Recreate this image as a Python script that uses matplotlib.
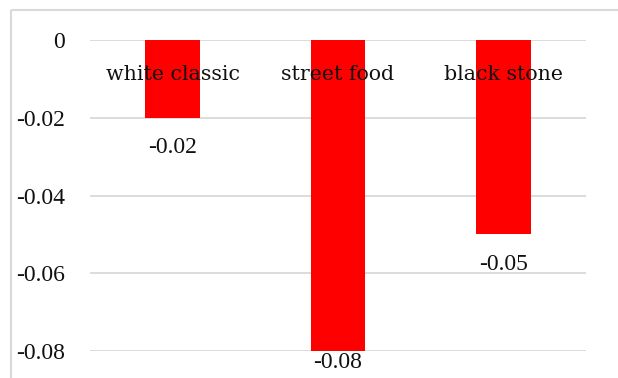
import matplotlib
matplotlib.use("Agg")
import matplotlib.pyplot as plt
from matplotlib.lines import Line2D
from matplotlib.transforms import offset_copy

categories = ["white classic", "street food", "black stone"]
values = [-0.02, -0.08, -0.05]
y_ticks = [0, -0.02, -0.04, -0.06, -0.08]
y_tick_labels = ["0", "-0.02", "-0.04", "-0.06", "-0.08"]

W, H, DPI = 618, 378, 100
fig = plt.figure(figsize=(W / DPI, H / DPI), dpi=DPI)

# chart-area frame: top and left edges (the rest runs off the canvas)
frame_kw = dict(transform=fig.transFigure, color="#d9d9d9", linewidth=1.5,
                solid_capstyle="butt")
fig.add_artist(Line2D([11 / W, 1.02], [1 - 10 / H, 1 - 10 / H], **frame_kw))
fig.add_artist(Line2D([11 / W, 11 / W], [-0.02, 1 - 10 / H], **frame_kw))

ax = fig.add_axes([90 / W, (H - 351) / H, 496 / W, 311 / H])
x = list(range(len(categories)))
ax.bar(x, values, width=0.33, color="#ff0000", zorder=3)

ax.set_xlim(-0.5, len(categories) - 0.5)
ax.set_ylim(min(y_ticks), max(y_ticks))
ax.set_yticks(y_ticks)
ax.set_yticklabels(y_tick_labels, fontfamily="Liberation Serif", fontsize=17,
                   color="#111111")
ax.tick_params(axis="y", length=0, pad=18)
ax.set_xticks([])
ax.grid(axis="y", color="#d9d9d9", linewidth=1.3, zorder=0)
ax.set_axisbelow(True)
for s in ax.spines.values():
    s.set_visible(False)

# category names sit just under the zero line
for xi, name in zip(x, categories):
    tr = offset_copy(ax.transData, fig=fig, x=0, y=-34 * 72 / DPI, units="points")
    ax.text(xi, 0, name, transform=tr, ha="center", va="center",
            fontfamily="DejaVu Serif", fontsize=14.8, color="#111111", zorder=4)

# value labels under each bar end, kept inside the chart area
for xi, v in zip(x, values):
    dy = -30 if v > min(y_ticks) + 1e-9 else -11
    tr = offset_copy(ax.transData, fig=fig, x=0, y=dy * 72 / DPI, units="points")
    ax.text(xi, v, f"{v:.2f}", transform=tr, ha="center", va="center",
            fontfamily="Liberation Serif", fontsize=17, color="#111111",
            zorder=4, clip_on=False)

fig.savefig("out.png", dpi=DPI)
